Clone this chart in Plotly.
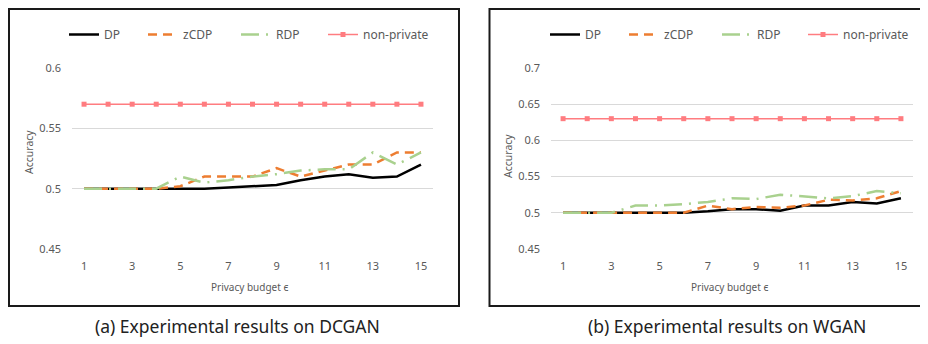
import plotly.graph_objects as go

eps = [1, 2, 3, 4, 5, 6, 7, 8, 9, 10, 11, 12, 13, 14, 15]
x_ticks = [1, 3, 5, 7, 9, 11, 13, 15]

dcgan_dp = [0.5, 0.5, 0.5, 0.5, 0.5, 0.5, 0.501, 0.502, 0.503, 0.507, 0.51, 0.512, 0.509, 0.51, 0.52]
dcgan_zcdp = [0.5, 0.5, 0.5, 0.5, 0.502, 0.51, 0.51, 0.51, 0.517, 0.51, 0.515, 0.52, 0.52, 0.53, 0.53]
dcgan_rdp = [0.5, 0.5, 0.5, 0.5, 0.51, 0.505, 0.507, 0.51, 0.512, 0.515, 0.516, 0.516, 0.53, 0.52, 0.53]
dcgan_np = [0.57, 0.57, 0.57, 0.57, 0.57, 0.57, 0.57, 0.57, 0.57, 0.57, 0.57, 0.57, 0.57, 0.57, 0.57]

wgan_dp = [0.5, 0.5, 0.5, 0.5, 0.5, 0.5, 0.502, 0.505, 0.505, 0.503, 0.51, 0.51, 0.515, 0.513, 0.52]
wgan_zcdp = [0.5, 0.5, 0.5, 0.5, 0.5, 0.5, 0.51, 0.505, 0.508, 0.507, 0.51, 0.518, 0.517, 0.52, 0.53]
wgan_rdp = [0.5, 0.5, 0.5, 0.51, 0.51, 0.512, 0.515, 0.52, 0.519, 0.525, 0.522, 0.52, 0.523, 0.53, 0.527]
wgan_np = [0.63, 0.63, 0.63, 0.63, 0.63, 0.63, 0.63, 0.63, 0.63, 0.63, 0.63, 0.63, 0.63, 0.63, 0.63]

series_names = ["DP", "zCDP", "RDP", "non-private"]

# the page body has an 8px margin; the figure fills the rest of the 928x344 window
OFF = 8
W, H = 928 - OFF, 344 - OFF
FONT = "Noto Sans"
GRAY = "#595959"


def fx(p):
    return (p - OFF) / W


def fy(p):
    return 1 - (p - OFF) / H


styles = [
    dict(color="#000000", width=2.5, dash="solid"),
    dict(color="#ED7D31", width=2.5, dash="9px,6px"),
    dict(color="#A9D18E", width=2.5, dash="18px,7px,2px,7px"),
    dict(color="#FF7C80", width=1.5, dash="solid"),
]

# legend entry positions (page px)
legend_x_left = [64, 143, 236, 323]
legend_x_right = [545, 624, 717, 803]

fig = go.Figure()
legend_layout = {}
counter = [0]


def add_set(data, xa, ya, lx):
    for name, vals, st, x0 in zip(series_names, data, styles, lx):
        counter[0] += 1
        lid = "legend" if counter[0] == 1 else f"legend{counter[0]}"
        is_np = name == "non-private"
        fig.add_trace(go.Scatter(
            x=eps, y=vals, name=name, xaxis=xa, yaxis=ya, legend=lid,
            mode="lines+markers" if is_np else "lines",
            line=dict(color=st["color"], width=st["width"], dash=st["dash"]),
            marker=dict(symbol="square", size=5, color=st["color"]) if is_np else None,
        ))
        legend_layout[lid] = dict(
            orientation="h", x=fx(x0), y=fy(20), xanchor="left", yanchor="top",
            font=dict(family=FONT, size=12, color=GRAY), bgcolor="rgba(0,0,0,0)",
        )


add_set([dcgan_dp, dcgan_zcdp, dcgan_rdp, dcgan_np], "x", "y", legend_x_left)
add_set([wgan_dp, wgan_zcdp, wgan_rdp, wgan_np], "x2", "y2", legend_x_right)

ydom = [fy(249), fy(68)]
axis_common = dict(
    showline=False, zeroline=False, ticks="", automargin=False,
    tickfont=dict(family=FONT, size=11, color=GRAY),
)
fig.update_layout(
    width=W, height=H,
    margin=dict(l=0, r=0, t=0, b=0, autoexpand=False),
    paper_bgcolor="white", plot_bgcolor="white",
    font=dict(family=FONT, color=GRAY),
    xaxis=dict(domain=[fx(72), fx(433)], range=[0.5, 15.5], tickvals=x_ticks,
               showgrid=False, ticklabelstandoff=9, anchor="y", **axis_common),
    yaxis=dict(domain=ydom, range=[0.45, 0.6], tickvals=[0.45, 0.5, 0.55, 0.6],
               ticktext=["0.45", "0.5", "0.55", "0.6"],
               showgrid=True, gridcolor="#D9D9D9", gridwidth=1,
               ticklabelstandoff=10, anchor="x", **axis_common),
    xaxis2=dict(domain=[fx(551), fx(913)], range=[0.5, 15.5], tickvals=x_ticks,
                showgrid=False, ticklabelstandoff=9, anchor="y2", **axis_common),
    yaxis2=dict(domain=ydom, range=[0.45, 0.7], tickvals=[0.45, 0.5, 0.55, 0.6, 0.65, 0.7],
                ticktext=["0.45", "0.5", "0.55", "0.6", "0.65", "0.7"],
                showgrid=True, gridcolor="#D9D9D9", gridwidth=1,
                ticklabelstandoff=10, anchor="x2", **axis_common),
    showlegend=True,
    **legend_layout,
)

# panel borders
fig.add_shape(type="rect", xref="paper", yref="paper",
              x0=fx(9), x1=fx(459), y0=fy(306), y1=fy(9),
              line=dict(color="#1a1a1a", width=2))
fig.add_shape(type="rect", xref="paper", yref="paper",
              x0=fx(489.5), x1=fx(926), y0=fy(306), y1=fy(9),
              line=dict(color="#1a1a1a", width=2))


def ann(text, x, y, size, color=GRAY, angle=0):
    fig.add_annotation(text=text, x=fx(x), y=fy(y), xref="paper", yref="paper",
                       showarrow=False, textangle=angle, xanchor="center", yanchor="middle",
                       font=dict(family=FONT, size=size, color=color))


ann("Accuracy", 29, 152, 10.5, angle=-90)
ann("Accuracy", 508, 156, 10.5, angle=-90)
ann("Privacy budget ϵ", 250, 287, 10)
ann("Privacy budget ϵ", 729, 287, 10)
ann("(a) Experimental results on DCGAN", 237, 326, 17.5, color="#222222")
ann("(b) Experimental results on WGAN", 727, 326, 17.5, color="#222222")

fig.write_html("out.html")
